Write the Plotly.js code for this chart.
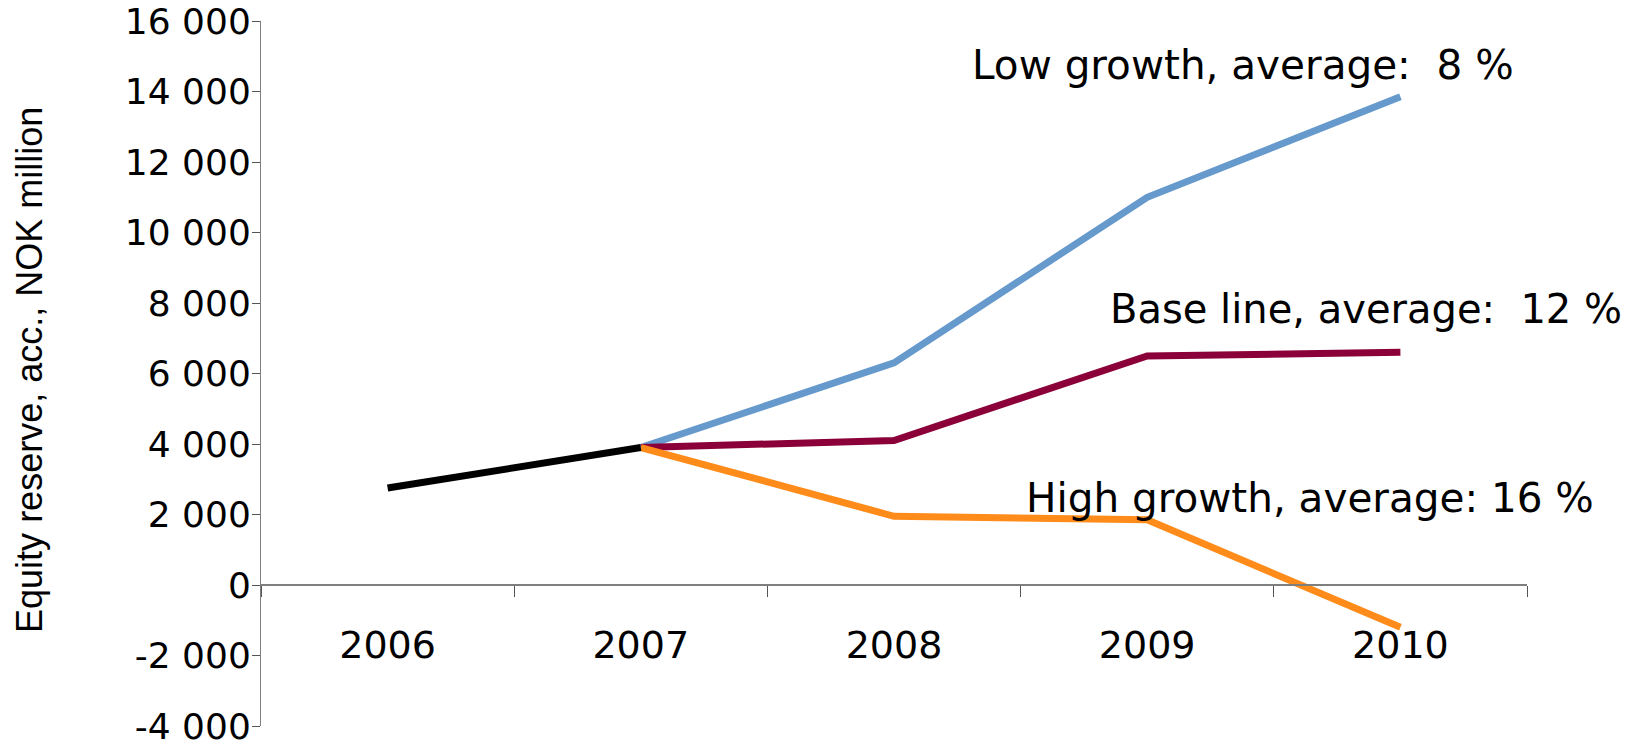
<!DOCTYPE html>
<html>
<head>
<meta charset="utf-8">
<script src="https://cdn.plot.ly/plotly-3.0.1.min.js"></script>
<style>html,body{margin:0;padding:0;background:#fff;}#chart{width:1635px;height:750px;}</style>
</head>
<body>
<div id="chart"></div>
<script>
const years = ["2006", "2007", "2008", "2009", "2010"];
const histYears = ["2006", "2007"];
const histValues = [2750, 3900];
const scenYears = ["2007", "2008", "2009", "2010"];
const lowGrowth = [3900, 6300, 11000, 13850];
const baseLine = [3900, 4100, 6500, 6600];
const highGrowth = [3900, 1950, 1850, -1200];
const yTickVals = [-4000, -2000, 0, 2000, 4000, 6000, 8000, 10000, 12000, 14000, 16000];
const yTickText = ["-4 000", "-2 000", "0", "2 000", "4 000", "6 000", "8 000", "10 000", "12 000", "14 000", "16 000"];
const yTitle = "Equity reserve, acc., NOK million";
const labelLow = "Low growth, average: \u00a08 %";
const labelBase = "Base line, average: \u00a012 %";
const labelHigh = "High growth, average: 16 %";

const font = "DejaVu Sans, Verdana, sans-serif";
const traces = [
  {x: scenYears, y: lowGrowth, mode: "lines", line: {color: "#6699CC", width: 7}, name: "Low growth"},
  {x: scenYears, y: baseLine, mode: "lines", line: {color: "#8B0039", width: 7}, name: "Base line"},
  {x: scenYears, y: highGrowth, mode: "lines", line: {color: "#FF8C1A", width: 7}, name: "High growth"},
  {x: histYears, y: histValues, mode: "lines", line: {color: "#000000", width: 7}, name: "Historic"}
];
const layout = {
  width: 1635, height: 750,
  margin: {l: 261, r: 108, t: 21, b: 24},
  paper_bgcolor: "#fff", plot_bgcolor: "#fff",
  showlegend: false,
  font: {family: font, color: "#000"},
  xaxis: {
    type: "category", categoryarray: years, range: [-0.5, 4.5],
    anchor: "free", position: 0.2,
    showline: true, linecolor: "#7f7f7f", linewidth: 2,
    showgrid: false, zeroline: false,
    ticks: "outside", tickson: "boundaries", ticklen: 11, tickcolor: "#555", tickwidth: 1,
    tickfont: {size: 38, family: font, color: "#000"},
    ticklabelstandoff: 26
  },
  yaxis: {
    range: [-4000, 16000],
    tickvals: yTickVals, ticktext: yTickText,
    showline: true, linecolor: "#7f7f7f", linewidth: 1,
    showgrid: false, zeroline: false,
    ticks: "outside", ticklen: 8, tickcolor: "#555",
    ticklabeloverflow: "allow",
    ticklabelstandoff: -6,
    tickfont: {size: 36, family: font, color: "#000"}
  },
  annotations: [
    {xref: "paper", yref: "paper", x: -0.1825, y: 0.505, xanchor: "center", yanchor: "middle", textangle: -90, text: yTitle, showarrow: false, font: {size: 36, family: "Liberation Sans, Arial, sans-serif", color: "#000"}},
    {xref: "paper", yref: "paper", x: 0.560, y: 0.938, xanchor: "left", yanchor: "middle", text: labelLow, showarrow: false, font: {size: 40.5, family: font, color: "#000"}},
    {xref: "paper", yref: "paper", x: 0.669, y: 0.591, xanchor: "left", yanchor: "middle", text: labelBase, showarrow: false, font: {size: 40, family: font, color: "#000"}},
    {xref: "paper", yref: "paper", x: 0.603, y: 0.323, xanchor: "left", yanchor: "middle", text: labelHigh, showarrow: false, font: {size: 40.5, family: font, color: "#000"}}
  ]
};
Plotly.newPlot("chart", traces, layout, {staticPlot: true});
</script>
</body>
</html>
